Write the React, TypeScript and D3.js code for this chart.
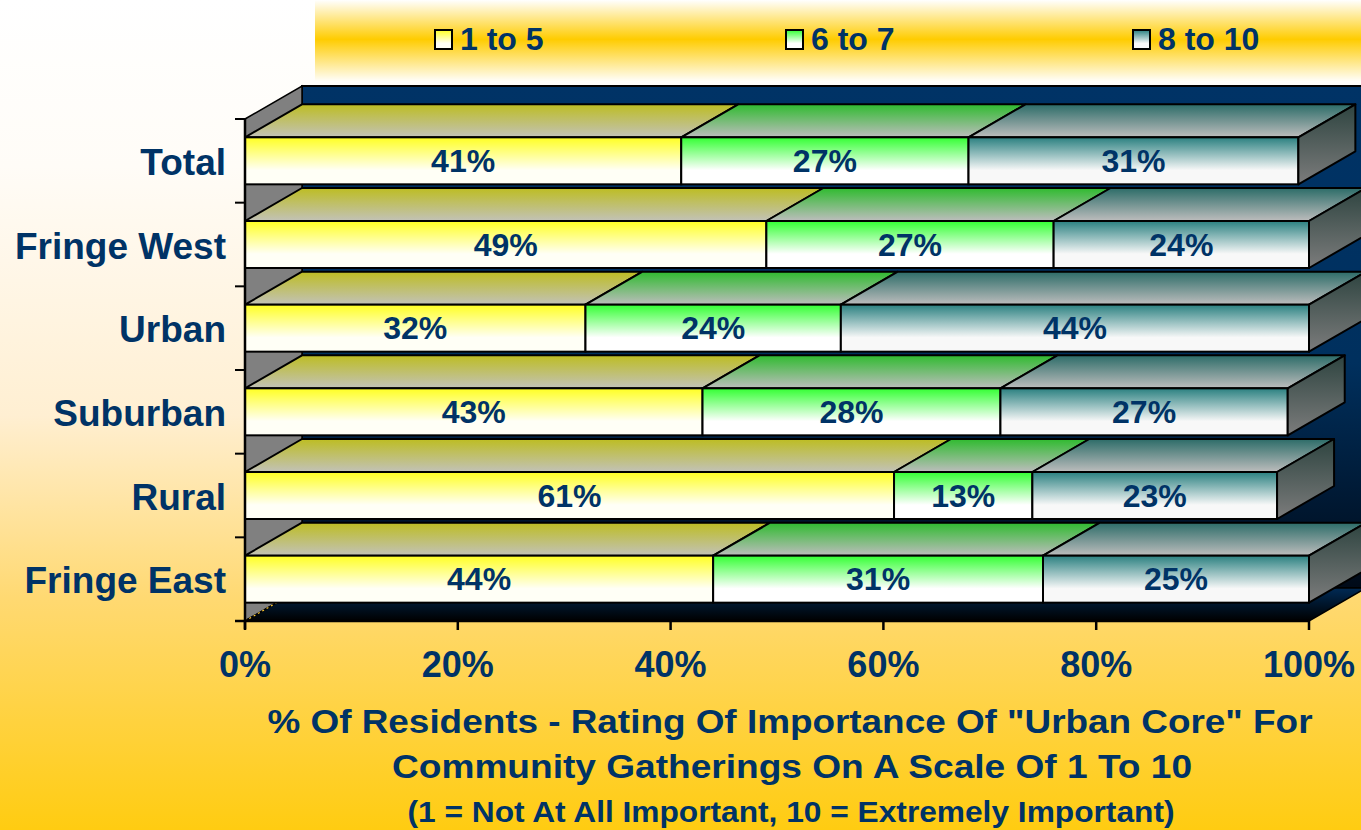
import React from "react";
import * as d3 from "d3";

const categories = ["Total", "Fringe West", "Urban", "Suburban", "Rural", "Fringe East"];
const seriesNames = ["1 to 5", "6 to 7", "8 to 10"];
const low = [41, 49, 32, 43, 61, 44];
const mid = [27, 27, 24, 28, 13, 31];
const high = [31, 24, 44, 27, 23, 25];
const xTicks = [0, 20, 40, 60, 80, 100];
const titleLines = [
  "% Of Residents - Rating Of Importance Of \"Urban Core\" For",
  "Community Gatherings On A Scale Of 1 To 10",
  "(1 = Not At All Important, 10 = Extremely Important)",
];

const W = 1361;
const H = 830;
const FONT = "'Liberation Sans', Arial, sans-serif";
const NAVY = "#003366";
const DX = 57;
const DY = 33;
const BAR_H = 47;

const frontColors = [
  ["#FFFF22", "#FFFFF6"],
  ["#33FF33", "#FFFFFF"],
  ["#2A8080", "#F8F8F8"],
];
const topColors = [
  ["#BDBD22", "#C2C2B8"],
  ["#2FBB2F", "#BDBDBD"],
  ["#2C6C68", "#BDBDBD"],
];

export default function App() {
  const values = [low, mid, high];
  const x = d3.scaleLinear().domain([0, 100]).range([245, 1309]);
  const y = d3.scaleBand<string>().domain(categories).range([119, 621]);
  const x0 = x(0);
  const x1 = x(100);
  const yTop = y.range()[0];
  const yBot = y.range()[1];

  const poly = (pts: [number, number][]) => pts.map((p) => p.join(",")).join(" ");

  const stacked = categories.map((c, i) => {
    let acc = 0;
    return values.map((s, k) => {
      const start = acc;
      acc += s[i];
      return { k, start, end: acc, v: s[i] };
    });
  });

  return (
    <svg width={W} height={H} style={{ position: "absolute", left: 0, top: 0 }} fontFamily={FONT}>
      <defs>
        <linearGradient id="bg" x1="0" y1="0" x2="0" y2="1">
          <stop offset="0" stopColor="#FFFFFF" />
          <stop offset="0.2" stopColor="#FFFCF7" />
          <stop offset="0.5" stopColor="#FFEFD2" />
          <stop offset="0.72" stopColor="#FFD972" />
          <stop offset="1" stopColor="#FFCC11" />
        </linearGradient>
        <linearGradient id="legbg" x1="0" y1="0" x2="0" y2="1">
          <stop offset="0" stopColor="#FFFFFF" />
          <stop offset="0.48" stopColor="#FFCC00" />
          <stop offset="1" stopColor="#FFFFFF" />
        </linearGradient>
        <linearGradient id="wall" x1="0" y1="0" x2="0" y2="1">
          <stop offset="0" stopColor="#003366" />
          <stop offset="0.55" stopColor="#00305E" />
          <stop offset="1" stopColor="#000A18" />
        </linearGradient>
        <linearGradient id="floor" x1="0" y1="0" x2="0" y2="1">
          <stop offset="0" stopColor="#002A55" />
          <stop offset="1" stopColor="#000000" />
        </linearGradient>
        <linearGradient id="side" x1="0" y1="0" x2="0" y2="1">
          <stop offset="0" stopColor="#2E4440" />
          <stop offset="1" stopColor="#7C7C7C" />
        </linearGradient>
        {frontColors.map((c, k) => (
          <linearGradient key={"f" + k} id={"front" + k} x1="0" y1="0" x2="0" y2="1">
            <stop offset="0" stopColor={c[0]} />
            <stop offset="0.7" stopColor={c[1]} />
            <stop offset="1" stopColor={c[1]} />
          </linearGradient>
        ))}
        {topColors.map((c, k) => (
          <linearGradient key={"t" + k} id={"top" + k} x1="0" y1="0" x2="0" y2="1">
            <stop offset="0" stopColor={c[0]} />
            <stop offset="1" stopColor={c[1]} />
          </linearGradient>
        ))}
      </defs>

      <rect x={0} y={0} width={W} height={H} fill="url(#bg)" />
      <rect x={315} y={0} width={W - 315} height={82} fill="url(#legbg)" />

      {/* Legend */}
      {seriesNames.map((name, k) => {
        const mx = [435, 786, 1133][k];
        return (
          <g key={name}>
            <rect x={mx} y={30} width={17} height={19} fill={`url(#front${k})`} stroke="#000" strokeWidth={2} />
            <text x={mx + 25} y={50} fontSize={32} fontWeight="bold" fill={NAVY}>
              {name}
            </text>
          </g>
        );
      })}

      {/* Back wall */}
      <polygon
        points={poly([
          [x0 + DX, yTop - DY],
          [x1 + DX, yTop - DY],
          [x1 + DX, yBot - DY],
          [x0 + DX, yBot - DY],
        ])}
        fill="url(#wall)"
        stroke="#000"
        strokeWidth={2}
      />
      {/* Left wall */}
      <polygon
        points={poly([
          [x0, yTop],
          [x0 + DX, yTop - DY],
          [x0 + DX, yBot - DY],
          [x0, yBot],
        ])}
        fill="#808080"
        stroke="#000"
        strokeWidth={1.5}
      />
      {/* Floor */}
      <polygon
        points={poly([
          [x0, yBot],
          [x0 + DX, yBot - DY],
          [x1 + DX, yBot - DY],
          [x1, yBot],
        ])}
        fill="url(#floor)"
        stroke="#000"
        strokeWidth={1.5}
      />
      <line x1={x0} y1={yBot} x2={x0 + DX} y2={yBot - DY} stroke="#FFCC33" strokeWidth={1.2} strokeDasharray="2,3" />

      {/* Bars */}
      {categories.map((c, i) => {
        const cy = (y(c) as number) + y.bandwidth() / 2;
        const top = cy - BAR_H / 2;
        const bot = cy + BAR_H / 2;
        const segs = stacked[i];
        const last = segs[segs.length - 1];
        return (
          <g key={c}>
            {segs.map((s) => {
              const a = x(s.start);
              const b = x(s.end);
              return (
                <g key={s.k}>
                  <polygon
                    points={poly([
                      [a, top],
                      [a + DX, top - DY],
                      [b + DX, top - DY],
                      [b, top],
                    ])}
                    fill={`url(#top${s.k})`}
                    stroke="#000"
                    strokeWidth={2}
                    strokeLinejoin="round"
                  />
                  <rect x={a} y={top} width={b - a} height={BAR_H} fill={`url(#front${s.k})`} stroke="#000" strokeWidth={2} />
                </g>
              );
            })}
            <polygon
              points={poly([
                [x(last.end), top],
                [x(last.end) + DX, top - DY],
                [x(last.end) + DX, bot - DY],
                [x(last.end), bot],
              ])}
              fill="url(#side)"
              stroke="#000"
              strokeWidth={2}
              strokeLinejoin="round"
            />
            {segs.map((s) => (
              <text
                key={"l" + s.k}
                x={(x(s.start) + x(s.end)) / 2}
                y={cy + 11}
                textAnchor="middle"
                fontSize={32}
                fontWeight="bold"
                fill={NAVY}
              >
                {s.v}%
              </text>
            ))}
            <text x={226} y={cy + 14} textAnchor="end" fontSize={37} fontWeight="bold" fill={NAVY}>
              {c}
            </text>
          </g>
        );
      })}

      {/* Axes */}
      <line x1={x0} y1={yTop} x2={x0} y2={yBot + 8} stroke="#000" strokeWidth={2.5} />
      <line x1={x0 - 10} y1={yBot} x2={x1} y2={yBot} stroke="#000" strokeWidth={2.5} />
      {y.domain().map((c) => (
        <line key={"yt" + c} x1={x0 - 10} x2={x0} y1={y(c) as number} y2={y(c) as number} stroke="#000" strokeWidth={2} />
      ))}
      {xTicks.map((t) => (
        <g key={"xt" + t}>
          <line x1={x(t)} x2={x(t)} y1={yBot} y2={yBot + 9} stroke="#000" strokeWidth={2.5} />
          <text x={x(t)} y={677} textAnchor="middle" fontSize={36} fontWeight="bold" fill={NAVY}>
            {t}%
          </text>
        </g>
      ))}

      {/* Title */}
      <text x={790} y={733} textAnchor="middle" fontSize={34} fontWeight="bold" fill={NAVY} textLength={1045} lengthAdjust="spacingAndGlyphs">
        {titleLines[0]}
      </text>
      <text x={792} y={778} textAnchor="middle" fontSize={34} fontWeight="bold" fill={NAVY} textLength={800} lengthAdjust="spacingAndGlyphs">
        {titleLines[1]}
      </text>
      <text x={791} y={822} textAnchor="middle" fontSize={29} fontWeight="bold" fill={NAVY} textLength={767} lengthAdjust="spacingAndGlyphs">
        {titleLines[2]}
      </text>
    </svg>
  );
}
